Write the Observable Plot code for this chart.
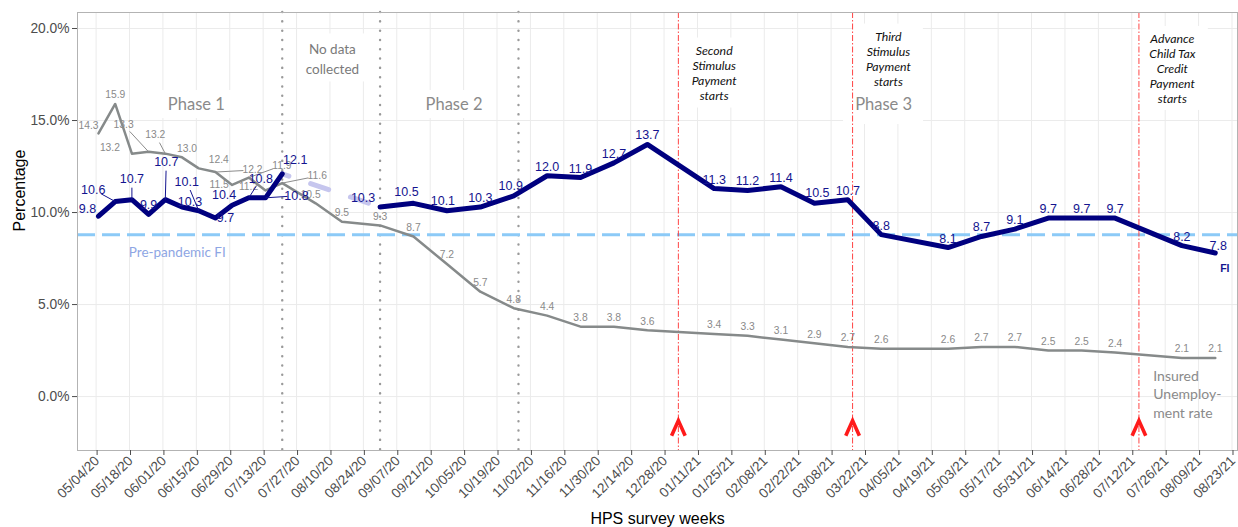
<!DOCTYPE html>
<html><head><meta charset="utf-8">
<script src="https://cdn.jsdelivr.net/npm/d3@7"></script>
<script src="https://cdn.jsdelivr.net/npm/@observablehq/plot@0.6"></script>
<style>body{margin:0;background:#fff} svg{display:block}</style>
</head><body><div id="chart"></div>
<script>
// ---------- data ----------
const tickLabels = ["05/04/20","05/18/20","06/01/20","06/15/20","06/29/20","07/13/20","07/27/20","08/10/20","08/24/20","09/07/20","09/21/20","10/05/20","10/19/20","11/02/20","11/16/20","11/30/20","12/14/20","12/28/20","01/11/21","01/25/21","02/08/21","02/22/21","03/08/21","03/22/21","04/05/21","04/19/21","05/03/21","05/17/21","05/31/21","06/14/21","06/28/21","07/12/21","07/26/21","08/09/21","08/23/21"];
const yTicks = [0, 5, 10, 15, 20];

const fiDates = ["2020-05-05","2020-05-12","2020-05-19","2020-05-26","2020-06-02","2020-06-09","2020-06-16","2020-06-23","2020-06-30","2020-07-07","2020-07-14","2020-07-21",
  "2020-08-31","2020-09-14","2020-09-28","2020-10-12","2020-10-26","2020-11-09","2020-11-23","2020-12-07","2020-12-21",
  "2021-01-18","2021-02-01","2021-02-15","2021-03-01","2021-03-15","2021-03-29","2021-04-26","2021-05-10","2021-05-24","2021-06-07","2021-06-21","2021-07-05","2021-08-02","2021-08-16"];
const fiValues = [9.8,10.6,10.7,9.9,10.7,10.3,10.1,9.7,10.4,10.8,10.8,12.1,
  10.3,10.5,10.1,10.3,10.9,12.0,11.9,12.7,13.7,
  11.3,11.2,11.4,10.5,10.7,8.8,8.1,8.7,9.1,9.7,9.7,9.7,8.2,7.8];
const fiPhase1Count = 12;

const uiDates = ["2020-05-05","2020-05-12","2020-05-19","2020-05-26","2020-06-02","2020-06-09","2020-06-16","2020-06-23","2020-06-30","2020-07-07","2020-07-14","2020-07-21",
  "2020-08-04","2020-08-15",
  "2020-08-31","2020-09-14","2020-09-28","2020-10-12","2020-10-26","2020-11-09","2020-11-23","2020-12-07","2020-12-21",
  "2021-01-18","2021-02-01","2021-02-15","2021-03-01","2021-03-15","2021-03-29","2021-04-26","2021-05-10","2021-05-24","2021-06-07","2021-06-21","2021-07-05","2021-08-02","2021-08-16"];
const uiValues = [14.3,15.9,13.2,13.3,13.2,13.0,12.4,12.2,11.5,11.9,11.2,11.6,
  10.5,9.5,
  9.3,8.7,7.2,5.7,4.8,4.4,3.8,3.8,3.6,
  3.4,3.3,3.1,2.9,2.7,2.6,2.6,2.7,2.7,2.5,2.5,2.4,2.1,2.1];

const prePandemicFI = 8.8;
const phaseBreakDates = ["2020-07-21","2020-08-31","2020-10-28"];
const eventDates = ["2021-01-03","2021-03-17","2021-07-15"];

// ---------- layout (not data) ----------
const W = 1238, H = 527, ML = 77, MR = 1, MT = 12, MB = 77;
const xStart = new Date("2020-04-26T04:55Z"), xEnd = new Date("2021-08-25T07:20Z");
const yMin = -2.93, yMax = 20.87;
const kx = (W - ML - MR) / (xEnd - xStart);   // px per ms
const ky = (H - MT - MB) / (yMax - yMin);     // px per percentage point

// label nudges in px [dx, dy]
const fiNudge = {0:[-11,-7],1:[-22,-12],2:[0,-21],3:[0,-9],4:[1,-38],5:[8,-5],6:[-12,-29],7:[10,0],8:[-8,-10],9:[12,-19],10:[31,-2],11:[13,-14],12:[-17,-9],13:[-7,-11],14:[-4,-10],16:[-3,-10],24:[3,-10],34:[3,-7]};
const fiLeaders = [1,2,4,6,9,10];
const uiNudge = {0:[-10,-8],1:[0,-9],2:[-22,-6],3:[-25,-27],4:[-10,-19],5:[5,-9],6:[20,-9],7:[37,-2],8:[-13,0],9:[33,-12],10:[-17,-4],11:[35,-7],12:[-5,-9]};
const uiLeaders = [3,4,7,9,11];

const fi = fiDates.map((d,i)=>({date:new Date(d), value:fiValues[i], seg: i < fiPhase1Count ? "p1" : "p2", i}));
const ui = uiDates.map((d,i)=>({date:new Date(d), value:uiValues[i], i}));

function labelPos(arr, nudge, def){
  return arr.map(d=>{
    const [dx,dy] = nudge[d.i] || def;
    return {x:new Date(+d.date + dx/kx), y:d.value - dy/ky, text:d.value.toFixed(1)};
  });
}
function leaders(arr, nudge, idx){
  return idx.map(i=>{
    const d = arr[i]; const [dx,dy] = nudge[i];
    const len = Math.hypot(dx,dy); const f = Math.max(0,(len-9)/len);
    return {x1:d.date, y1:d.value, x2:new Date(+d.date + dx*f/kx), y2:d.value - dy*f/ky};
  });
}
const fiLabels = labelPos(fi, fiNudge, [0,-9]);
const uiLabels = labelPos(ui, uiNudge, [0,-9]);

// annotation texts (x date, y value)
const annotations = [
  {text:"Phase 1", x:"2020-06-15", y:15.87, size:16.5, color:"#8a8a8a", style:"normal", lh:1, box:[78,28]},
  {text:"No data\ncollected", x:"2020-08-11", y:18.4, size:13.5, color:"#7a7a7a", style:"normal", lh:1.48, box:[68,48]},
  {text:"Phase 2", x:"2020-10-01", y:15.87, size:16.5, color:"#8a8a8a", style:"normal", lh:1, box:[78,28]},
  {text:"Phase 3", x:"2021-03-30", y:15.87, size:16.5, color:"#8a8a8a", style:"normal", lh:1, box:[80,40]},
  {text:"Second\nStimulus\nPayment\nstarts", x:"2021-01-18", y:17.58, size:12.3, color:"#111", style:"italic", lh:1.22, box:[70,70]},
  {text:"Third\nStimulus\nPayment\nstarts", x:"2021-04-01", y:18.34, size:12.3, color:"#111", style:"italic", lh:1.22, box:[70,70]},
  {text:"Advance\nChild Tax\nCredit\nPayment\nstarts", x:"2021-07-29", y:17.83, size:12.3, color:"#111", style:"italic", lh:1.21, box:[72,84]}
].map(a=>({...a, date:new Date(a.x)}));
const boxes = annotations.map(a=>({x1:new Date(+a.date - a.box[0]/2/kx), x2:new Date(+a.date + a.box[0]/2/kx), y1:a.y - a.box[1]/2/ky, y2:a.y + a.box[1]/2/ky}));

const chevron = {draw(ctx, size){ const r = Math.sqrt(size/Math.PI); ctx.moveTo(-r*0.85, r*0.9); ctx.lineTo(0, -r); ctx.lineTo(r*0.85, r*0.9);} };

const tickDates = tickLabels.map(d3.utcParse("%m/%d/%y"));
const fmt = d3.utcFormat("%m/%d/%y");
const FONT = "'Liberation Sans', Arial, Helvetica, sans-serif";

const textMarks = annotations.map(a => Plot.text([a], {x:"date", y:"y", text:"text", fontSize:a.size, fill:a.color, fontStyle:a.style, lineHeight:a.lh, fontFamily:"Lato"}));

const chart = Plot.plot({
  width: W, height: H, marginLeft: ML, marginRight: MR, marginTop: MT, marginBottom: MB,
  style: {fontFamily: FONT, background: "white"},
  x: {type: "utc", domain: [xStart, xEnd]},
  y: {domain: [yMin, yMax]},
  marks: [
    Plot.ruleX(tickDates, {stroke: "#ebebeb", strokeWidth: 1}),
    Plot.ruleY(yTicks, {stroke: "#ebebeb", strokeWidth: 1}),
    Plot.rect(boxes, {x1:"x1", x2:"x2", y1:"y1", y2:"y2", fill:"white"}),
    Plot.ruleX(phaseBreakDates.map(d=>new Date(d)), {stroke:"#9a9a9a", strokeWidth:2.4, strokeDasharray:"0.1,9.2", strokeLinecap:"round"}),
    Plot.ruleY([prePandemicFI], {stroke:"#8ccaf7", strokeWidth:3, strokeDasharray:"18,7"}),
    Plot.ruleX(eventDates.map(d=>new Date(d)), {stroke:"#ff3030", strokeWidth:1, strokeDasharray:"6,2,1.5,2", strokeOpacity:0.9}),
    Plot.line(ui, {x:"date", y:"value", stroke:"#868a8a", strokeWidth:2.5}),
    Plot.link(leaders(ui, uiNudge, uiLeaders), {x1:"x1", y1:"y1", x2:"x2", y2:"y2", stroke:"#8c8c8c", strokeWidth:1}),
    Plot.text(uiLabels, {x:"x", y:"y", text:"text", fontSize:10.3, fill:"#8a8a8a"}),
    Plot.line([fi[fiPhase1Count-1], fi[fiPhase1Count]], {x:"date", y:"value", stroke:"#c6c6ee", strokeWidth:5, strokeDasharray:"19,23", strokeDashoffset:12}),
    Plot.line(fi, {x:"date", y:"value", z:"seg", stroke:"#00007f", strokeWidth:5, strokeLinejoin:"round"}),
    Plot.link(leaders(fi, fiNudge, fiLeaders), {x1:"x1", y1:"y1", x2:"x2", y2:"y2", stroke:"#14148f", strokeWidth:1}),
    Plot.text(fiLabels, {x:"x", y:"y", text:"text", fontSize:12.5, fill:"#14148f"}),
    ...textMarks,
    Plot.text([{x:new Date("2020-06-07"), y:7.84}], {x:"x", y:"y", text:()=>"Pre-pandemic FI", fill:"#8ea6e4", fontSize:13.5, fontFamily:"Lato"}),
    Plot.text([{x:new Date("2021-08-20"), y:6.94}], {x:"x", y:"y", text:()=>"FI", fill:"#14148f", fontSize:10.5, fontWeight:"bold"}),
    Plot.text([{x:new Date("2021-07-21"), y:0.16}], {x:"x", y:"y", text:()=>"Insured\nUnemploy-\nment rate", fill:"#8a8a8a", fontSize:14, lineHeight:1.3, textAnchor:"start", fontFamily:"Lato"}),
    Plot.dot(eventDates.map(d=>new Date(d)), {x:d=>d, y:()=>-1.74, r:8, symbol:chevron, stroke:"#ff1a1a", strokeWidth:3.6, fill:"none", strokeLinejoin:"miter"}),
    Plot.frame({stroke:"#b3b3b3", strokeWidth:1}),
    Plot.axisY({ticks: yTicks, tickFormat: d=>d.toFixed(1)+"%", fontSize:13.8, tickSize:5, tickPadding:3, color:"#4d4d4d", label:null}),
    Plot.axisX({ticks: tickDates, tickFormat: fmt, tickRotate:-45, fontSize:13.6, tickSize:5, tickPadding:3, dx:1, color:"#4d4d4d", label:null}),
    Plot.text(["Percentage"], {frameAnchor:"left", dx:-58, rotate:-90, fontSize:16, fill:"#000"}),
    Plot.text(["HPS survey weeks"], {frameAnchor:"bottom", dy:73, fontSize:16, fill:"#000"})
  ]
});
document.getElementById("chart").appendChild(chart);
</script></body></html>
